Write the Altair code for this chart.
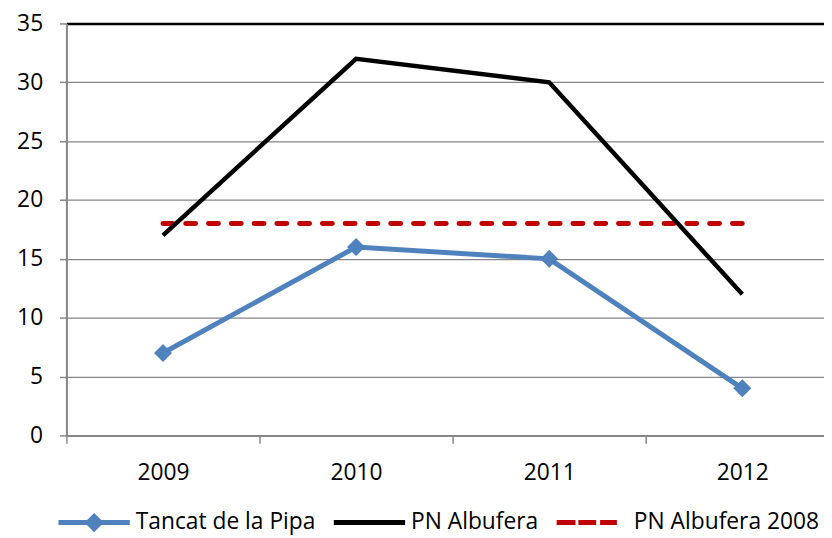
import altair as alt
import pandas as pd

years = ["2009", "2010", "2011", "2012"]
tancat = [7, 16, 15, 4]
albufera = [17, 32, 30, 12]
albufera_2008 = [18, 18, 18, 18]
series_names = ["Tancat de la Pipa", "PN Albufera", "PN Albufera 2008"]
series_colors = ["#4F81BD", "#000000", "#C00000"]
y_ticks = [0, 5, 10, 15, 20, 25, 30, 35]

FONT = "Open Sans"
GRAY = "#868686"

rows = []
for name, vals in zip(series_names, [tancat, albufera, albufera_2008]):
    for yr, v in zip(years, vals):
        rows.append({"year": yr, "value": v, "series": name})
df = pd.DataFrame(rows)

# legend symbols (unit box -1..1), line sample + marker
legend_paths = [
    "M-1,-0.07H1V0.07H-1Z M0,-0.27L0.27,0L0,0.27L-0.27,0Z",
    "M-1,-0.07H1V0.07H-1Z",
    "M-1,-0.07H-0.47V0.07H-1Z M-0.39,-0.07H0.11V0.07H-0.39Z M0.22,-0.07H0.69V0.07H0.22Z",
]

x_enc = alt.X(
    "year:N",
    sort=years,
    scale=alt.Scale(type="band", domain=years, range=[0, 780], paddingInner=0, paddingOuter=0),
    axis=alt.Axis(
        title=None, grid=False, tickBand="extent", labelAngle=0,
        domainColor=GRAY, domainWidth=2, tickColor=GRAY, tickWidth=1.5, tickSize=8,
        labelFont=FONT, labelFontSize=23, labelColor="black", labelPadding=19,
    ),
)
y_enc = alt.Y(
    "value:Q",
    scale=alt.Scale(domain=[0, 35], nice=False, zero=True),
    axis=alt.Axis(
        title=None, values=y_ticks,
        gridColor={"condition": {"test": "datum.value == 35", "value": "black"}, "value": GRAY},
        gridWidth={"condition": {"test": "datum.value == 35", "value": 2.5}, "value": 1.3},
        domainColor=GRAY, domainWidth=2, tickColor=GRAY, tickWidth=1.5, tickSize=7,
        labelFont=FONT, labelFontSize=23, labelColor="black", labelPadding=17,
    ),
)

base = alt.Chart(df)

red_line = base.mark_line(strokeWidth=5, strokeDash=[10, 13], strokeCap="round", color="#C00000").encode(
    x=x_enc, y=y_enc
).transform_filter(alt.datum.series == "PN Albufera 2008")

black_line = base.mark_line(strokeWidth=4.5, color="#000000").encode(
    x=x_enc, y=y_enc
).transform_filter(alt.datum.series == "PN Albufera")

blue_line = base.mark_line(strokeWidth=5, color="#4F81BD").encode(
    x=x_enc, y=y_enc
).transform_filter(alt.datum.series == "Tancat de la Pipa")

blue_pts = base.mark_point(shape="diamond", filled=True, size=330, opacity=1, color="#4F81BD").encode(
    x=x_enc, y=y_enc
).transform_filter(alt.datum.series == "Tancat de la Pipa")

leg = alt.Legend(
    title=None, orient="none", legendX=-8, legendY=468, direction="horizontal", columns=3,
    symbolSize=5184, symbolStrokeWidth=0, symbolOffset=0,
    labelFont=FONT, labelFontSize=23, labelColor="black", labelLimit=400,
    labelOffset=6, columnPadding=18, padding=0,
)

legend_layer = base.mark_point(filled=True, opacity=1).encode(
    x=x_enc, y=y_enc,
    shape=alt.Shape("series:N", scale=alt.Scale(domain=series_names, range=legend_paths), legend=leg),
    color=alt.Color("series:N", scale=alt.Scale(domain=series_names, range=series_colors), legend=leg),
).transform_filter("false")

chart = alt.layer(red_line, black_line, blue_line, blue_pts, legend_layer).properties(
    width=765, height=416,
    autosize=alt.AutoSizeParams(type="none"),
    padding={"left": 59, "top": 13, "right": 0, "bottom": 101},
).configure_view(stroke=None).configure(background="white")

chart.save("out.html", embed_options={"renderer": "svg", "actions": False})
